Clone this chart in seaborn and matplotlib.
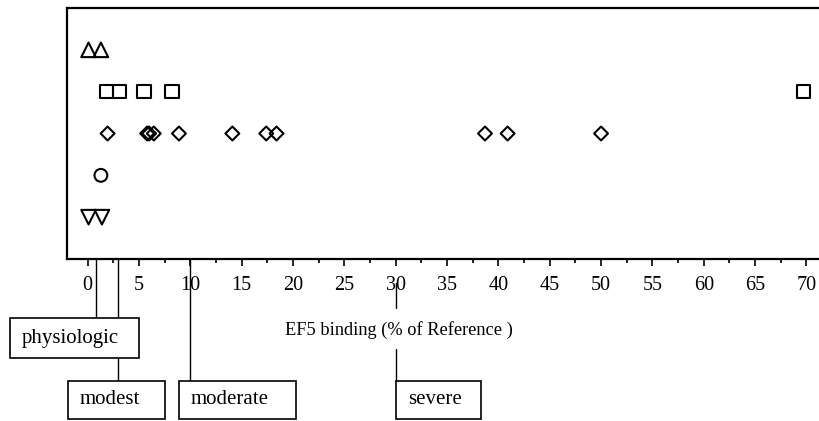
import numpy as np
import pandas as pd
import matplotlib
matplotlib.use('Agg')
import matplotlib.pyplot as plt
import matplotlib.transforms as mtransforms
from matplotlib.patches import Rectangle
from matplotlib.ticker import MultipleLocator
import seaborn as sns

# EF5 binding (% of reference), one list per group (row 5 = top)
up_triangles = [0.1, 1.3]
squares = [1.85, 3.1, 5.5, 8.2, 69.7]
diamonds = [1.95, 5.8, 6.0, 6.45, 8.9, 14.1, 17.4, 18.4, 38.7, 40.9, 50.0]
circles = [1.3]
down_triangles = [0.1, 1.4]

xticks = list(range(0, 75, 5))
axis_label = 'EF5 binding (% of Reference )'

# hypoxia categories and where their pointer lines hit the axis
levels = ['physiologic', 'modest', 'moderate', 'severe']
level_x = [0.8, 3, 10, 30]

W, H = 820, 421

sns.set_style('ticks')
plt.rcParams['font.family'] = ['Liberation Serif', 'DejaVu Serif']
plt.rcParams['text.color'] = 'black'
plt.rcParams['xtick.color'] = 'black'
plt.rcParams['xtick.labelcolor'] = 'black'

fig = plt.figure(figsize=(W / 100, H / 100), dpi=100)
ax = fig.add_axes([67 / W, (H - 259) / H, 760 / W, 251 / H])

groups = [
    (up_triangles, 5, '^', 110),
    (squares, 4, 's', 95),
    (diamonds, 3, 'D', 50),
    (circles, 2, 'o', 85),
    (down_triangles, 1, 'v', 110),
]
for vals, row, mk, s in groups:
    df = pd.DataFrame({'x': vals, 'y': [row] * len(vals)})
    sns.scatterplot(data=df, x='x', y='y', marker=mk, s=s, facecolor='none',
                    edgecolor='black', linewidth=1.5, legend=False, ax=ax)

ax.set_xlim(-2, 72)
ax.set_ylim(0, 6)
ax.set_yticks([])
ax.set_xticks(xticks)
ax.xaxis.set_minor_locator(MultipleLocator(2.5))
ax.tick_params(axis='x', which='major', direction='out', length=5, width=1.2,
               labelsize=14.5, pad=7, color='black', labelcolor='black')
ax.tick_params(axis='x', which='minor', direction='out', length=3, width=1.2,
               color='black')
ax.set_xlabel('')
ax.set_ylabel('')
ax.spines['right'].set_visible(False)
for sp in ['left', 'top', 'bottom']:
    ax.spines[sp].set_linewidth(1.6)
    ax.spines[sp].set_color('black')


def fy(py):
    return 1 - py / H


trans = mtransforms.blended_transform_factory(ax.transData, fig.transFigure)

# pointer lines from the axis to the category boxes (pixel y spans)
spans = [[(259, 318)], [(259, 381)], [(259, 381)], [(283, 308), (349, 381)]]
for xv, segs in zip(level_x, spans):
    for a, b in segs:
        ax.plot([xv, xv], [fy(a), fy(b)], transform=trans, clip_on=False,
                color='black', lw=1.0)

boxes = [(10, 318, 129, 40), (68, 381, 97, 38), (179, 381, 117, 38), (396, 381, 85, 38)]
for name, (bx, by, bw, bh) in zip(levels, boxes):
    fig.add_artist(Rectangle((bx / W, fy(by + bh)), bw / W, bh / H,
                             transform=fig.transFigure, facecolor='white',
                             edgecolor='black', lw=1.2, zorder=3))
    fig.text((bx + 12) / W, fy(by + bh / 2), name, ha='left', va='center',
             fontsize=15, color='black', zorder=4)

fig.text(398.5 / W, fy(330), axis_label, ha='center', va='center',
         fontsize=13.2, color='black')

fig.savefig('out.png', dpi=100)
